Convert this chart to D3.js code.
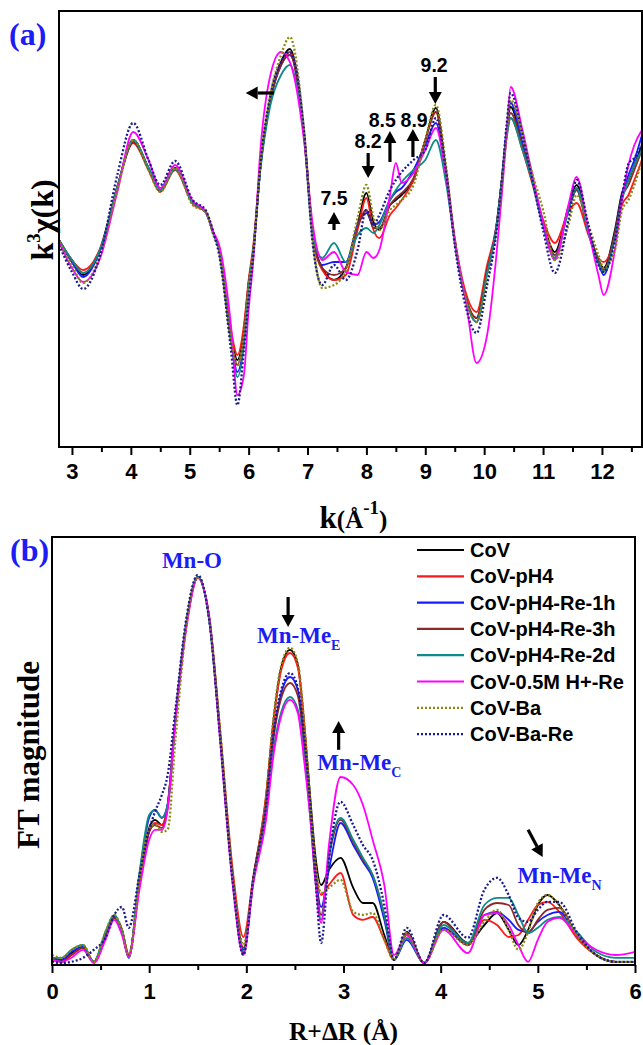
<!DOCTYPE html>
<html>
<head>
<meta charset="utf-8">
<script src="https://cdn.jsdelivr.net/npm/d3@7"></script>
<style>
  body { margin: 0; background: #fff; }
  svg { display: block; }
</style>
</head>
<body>
<svg id="chart" width="643" height="1045"></svg>
<script>
// ---- panel (a): k^3 chi(k) ----
const kVals = [2.78, 3.0, 3.19, 3.48, 3.77, 4.04, 4.3, 4.5, 4.75, 5.05, 5.27, 5.4, 5.5, 5.7, 5.81, 5.92, 6.0, 6.08, 6.2, 6.37,
  6.55, 6.7, 6.94, 7.09, 7.25, 7.45, 7.65, 7.85, 8.0, 8.12, 8.22, 8.4, 8.5, 8.6, 8.8, 9.0, 9.18, 9.35, 9.5, 9.7,
  9.87, 10.05, 10.2, 10.3, 10.38, 10.45, 10.65, 10.8, 11.0, 11.2, 11.43, 11.57, 11.77, 11.94, 12.03, 12.22, 12.34, 12.45, 12.55, 12.68];

const chiCoV = [-1.0, -3.2, -4.5, -2.0, 4.3, 9.0, 6.2, 4.0, 6.2, 2.7, 1.8, -0.3, -2.0, -10.5, -13.0, -10.0, -5.3, -2.0, 6.3, 13.0,
  16.8, 18.1, 9.7, -0.3, -3.8, -5.0, -3.8, 0.5, 3.7, 0.8, 0.0, 2.5, 3.0, 3.5, 5.0, 9.0, 12.2, 6.0, -1.0, -7.0,
  -8.8, -4.0, 0.0, 5.0, 9.7, 12.3, 8.5, 5.5, 0.8, -2.2, 2.3, 4.5, 0.0, -3.0, -3.8, 0.0, 3.7, 5.0, 6.5, 8.5];
const chiPH4 = [-1.0, -3.0, -4.0, -1.8, 4.3, 8.7, 6.0, 3.8, 6.0, 2.6, 1.8, -0.2, -1.8, -10.0, -12.5, -9.5, -5.0, -1.5, 6.5, 13.0,
  16.5, 17.8, 9.5, -0.5, -4.0, -5.0, -4.5, 0.0, 3.2, 0.0, -0.8, 1.5, 2.2, 3.0, 5.0, 9.0, 11.8, 6.0, -0.8, -6.5,
  -8.2, -3.5, 0.2, 5.0, 9.2, 11.2, 8.0, 5.0, 1.0, -1.3, 1.8, 2.7, -0.5, -2.8, -3.2, -0.8, 2.5, 3.5, 5.0, 7.0];
const chiRe1h = [-1.0, -3.2, -4.7, -2.0, 4.3, 8.8, 6.2, 4.0, 6.2, 2.8, 1.8, -0.3, -2.0, -11.0, -14.2, -11.0, -5.5, -2.0, 6.3, 13.0,
  16.5, 17.5, 9.7, -0.3, -3.5, -3.2, -3.2, 0.5, 1.7, 0.5, 0.8, 3.0, 3.8, 4.2, 6.0, 8.5, 10.7, 5.5, -1.2, -7.2,
  -9.2, -4.3, 0.0, 5.0, 10.0, 12.7, 8.7, 5.5, 0.5, -2.8, 2.0, 4.0, -0.3, -3.3, -4.5, -0.5, 3.5, 5.5, 7.0, 9.5];
const chiRe3h = [-1.0, -3.0, -4.3, -1.9, 4.3, 8.8, 6.1, 3.9, 6.1, 2.7, 1.8, -0.3, -2.0, -10.8, -13.5, -10.3, -5.4, -2.0, 6.3, 13.0,
  16.5, 17.5, 9.6, -0.4, -3.8, -4.5, -3.8, 0.3, 2.0, 0.2, 0.2, 2.5, 3.2, 3.7, 5.2, 9.0, 11.8, 5.8, -1.0, -7.0,
  -8.8, -4.0, 0.0, 5.0, 9.5, 11.7, 8.3, 5.3, 0.7, -2.5, 2.0, 4.0, -0.2, -3.0, -4.0, -0.3, 3.3, 4.5, 6.0, 8.0];
const chiRe2d = [-1.0, -3.0, -4.3, -1.9, 4.3, 9.0, 6.2, 4.0, 6.1, 2.7, 1.8, -0.3, -2.0, -11.0, -14.7, -11.5, -5.8, -2.0, 6.0, 12.5,
  15.5, 16.5, 9.3, -0.5, -2.8, -1.3, -3.2, -0.5, 0.2, -0.3, 0.5, 3.0, 4.0, 4.8, 6.0, 7.0, 9.0, 4.8, -1.2, -7.2,
  -9.2, -4.3, 0.0, 5.0, 9.2, 11.2, 8.0, 5.2, 0.5, -2.8, 2.0, 4.2, -0.3, -3.3, -4.2, -0.8, 3.0, 5.0, 6.5, 8.0];
const chiH = [-1.2, -3.8, -5.2, -2.8, 3.8, 9.8, 7.0, 4.2, 6.5, 2.9, 1.9, -0.2, -1.5, -9.5, -16.5, -14.5, -8.0, -3.0, 8.0, 15.5,
  17.8, 16.8, 9.0, 0.5, -3.0, -2.2, -4.2, -4.5, -2.2, -2.8, -2.0, 3.5, 6.7, 4.7, 5.7, 8.0, 10.2, 5.5, -1.0, -7.5,
  -13.3, -10.5, -3.0, 3.5, 9.5, 14.3, 10.0, 6.0, 0.8, -3.0, 2.5, 5.3, 0.0, -4.5, -6.5, -2.0, 3.0, 6.5, 8.5, 10.0];
const chiBa = [-1.2, -3.5, -5.3, -2.5, 4.0, 9.0, 6.0, 3.8, 6.2, 2.5, 1.8, -0.5, -2.2, -11.0, -13.5, -10.5, -5.5, -2.0, 6.5, 13.5,
  17.5, 19.3, 10.0, -1.0, -5.8, -5.5, -4.0, 1.2, 4.5, 1.3, 0.0, 2.0, 2.5, 3.0, 4.5, 9.0, 12.5, 6.5, -1.0, -7.2,
  -9.2, -5.0, -0.5, 4.5, 9.5, 13.0, 9.5, 6.0, 2.0, -3.0, 0.5, 3.5, 0.5, -2.5, -3.8, -2.0, 2.0, 3.0, 4.5, 7.0];
const chiBaRe = [-1.5, -4.2, -5.9, -2.5, 5.5, 10.7, 7.0, 4.5, 6.9, 3.0, 2.0, -0.2, -2.5, -12.0, -17.5, -12.0, -7.0, -2.5, 6.5, 13.5,
  16.8, 17.8, 10.0, -1.5, -5.5, -3.5, -5.0, -2.0, 2.0, 0.5, 1.5, 4.0, 5.0, 5.8, 7.0, 8.0, 11.2, 6.0, -1.5, -8.0,
  -10.3, -5.5, -0.5, 5.0, 10.5, 13.7, 9.5, 5.5, 0.0, -4.3, 1.0, 5.0, 0.5, -3.5, -4.2, -1.0, 3.3, 6.6, 7.2, 8.5];

// ---- panel (b): FT magnitude ----
const rVals = [0, 0.1, 0.2, 0.32, 0.43, 0.55, 0.64, 0.72, 0.79, 0.9, 1.0, 1.06, 1.13, 1.19, 1.27, 1.38, 1.5, 1.62, 1.73, 1.86,
  1.97, 2.07, 2.2, 2.28, 2.36, 2.45, 2.53, 2.6, 2.66, 2.71, 2.77, 2.85, 2.97, 3.1, 3.2, 3.3, 3.42, 3.52, 3.65, 3.83,
  4.03, 4.28, 4.45, 4.58, 4.7, 4.8, 4.9, 5.0, 5.1, 5.22, 5.4, 5.6, 5.8, 6.0];

const ftCoV = [1.8, 1.3, 3.0, 4.5, 0.8, 7.5, 12.0, 8.8, 2.0, 21.3, 34.3, 36.3, 35.0, 40.0, 61.8, 85.0, 97.0, 86.3, 57.5, 21.3,
  3.0, 21.3, 41.3, 61.3, 74.5, 78.8, 75.0, 58.8, 41.3, 27.5, 20.0, 23.8, 26.8, 19.3, 15.5, 15.5, 7.5, 1.3, 8.3, 0.5,
  10.8, 5.5, 10.0, 13.0, 8.8, 5.0, 8.8, 15.0, 17.5, 15.0, 7.5, 2.5, 0.8, 0.8];
const ftPH4 = [1.8, 0.8, 2.5, 4.3, 0.8, 6.8, 11.8, 8.8, 2.5, 20.0, 33.3, 35.5, 35.0, 40.0, 61.3, 84.5, 96.8, 86.8, 58.8, 23.8,
  7.0, 21.8, 41.8, 60.8, 73.8, 78.0, 74.3, 59.3, 40.0, 25.0, 17.5, 20.0, 23.0, 12.5, 11.3, 12.0, 6.3, 1.3, 7.5, 0.5,
  9.3, 5.0, 11.3, 10.0, 7.0, 7.5, 11.3, 15.0, 15.8, 13.3, 6.8, 2.5, 0.8, 0.8];
const ftRe1h = [1.3, 1.3, 3.3, 4.5, 0.8, 7.5, 12.0, 8.3, 1.8, 22.5, 36.8, 38.8, 36.8, 40.0, 61.3, 85.0, 97.0, 86.3, 57.5, 21.3,
  3.8, 20.8, 39.3, 57.5, 68.0, 72.0, 68.8, 55.0, 38.8, 23.8, 14.5, 23.8, 35.5, 30.0, 25.8, 21.8, 11.3, 1.3, 6.3, 0.5,
  9.3, 5.0, 12.5, 13.3, 11.3, 8.8, 8.3, 10.8, 12.5, 13.3, 7.5, 2.5, 0.8, 0.8];
const ftRe3h = [1.3, 0.8, 2.5, 4.3, 0.8, 7.0, 11.8, 8.8, 2.5, 20.0, 33.3, 35.0, 34.3, 39.3, 61.3, 84.5, 96.8, 86.3, 58.0, 21.8,
  4.3, 21.3, 38.8, 56.8, 66.8, 70.5, 67.3, 53.8, 37.5, 22.5, 12.5, 26.8, 36.3, 30.8, 26.3, 22.5, 12.5, 1.3, 8.0, 0.5,
  10.8, 5.0, 13.8, 15.5, 15.0, 10.0, 8.0, 11.3, 13.8, 14.3, 7.5, 2.5, 0.8, 0.8];
const ftRe2d = [1.8, 1.8, 3.8, 5.0, 0.8, 8.3, 12.5, 8.3, 1.8, 23.0, 37.5, 38.8, 36.8, 40.0, 61.3, 85.0, 97.0, 85.8, 57.0, 20.8,
  3.3, 20.8, 36.8, 53.8, 63.3, 67.0, 63.8, 51.3, 36.3, 21.3, 11.3, 27.5, 36.8, 31.3, 26.8, 22.5, 12.5, 1.3, 6.8, 0.5,
  10.0, 5.5, 15.0, 16.8, 16.8, 12.5, 8.0, 9.3, 11.3, 12.0, 8.3, 3.3, 1.8, 1.8];
const ftH = [1.3, 0.8, 1.8, 3.8, 0.5, 6.3, 11.3, 7.5, 2.0, 18.8, 31.3, 33.8, 33.8, 38.8, 60.8, 83.8, 96.8, 86.8, 56.3, 20.0,
  2.5, 20.0, 35.8, 52.5, 62.3, 66.3, 63.0, 50.0, 36.3, 21.3, 10.5, 30.0, 47.0, 45.0, 40.0, 31.3, 20.0, 2.5, 7.5, 0.5,
  8.8, 3.0, 12.5, 13.0, 10.0, 5.0, 0.8, 6.3, 10.8, 11.8, 7.5, 3.8, 2.5, 3.3];
const ftBa = [2.5, 1.8, 3.8, 5.0, 0.8, 8.3, 12.5, 8.8, 2.5, 21.3, 34.3, 35.0, 33.3, 33.8, 56.3, 84.3, 97.0, 86.3, 58.8, 22.5,
  5.0, 21.3, 41.3, 61.8, 75.0, 79.3, 75.5, 59.3, 40.0, 25.8, 18.0, 19.3, 21.3, 13.3, 12.5, 13.0, 6.3, 1.3, 8.0, 0.5,
  8.8, 5.0, 10.8, 13.8, 8.8, 3.8, 8.3, 15.5, 17.5, 15.0, 7.5, 2.5, 0.8, 0.8];
const ftBaRe = [0.8, 0.5, 0.8, 1.8, 3.8, 6.8, 12.5, 14.5, 9.3, 22.5, 33.8, 38.3, 42.5, 47.5, 63.8, 86.3, 97.5, 85.8, 56.8, 20.8,
  2.5, 21.3, 39.3, 58.0, 68.8, 73.0, 69.3, 55.8, 39.3, 22.5, 5.5, 26.3, 40.8, 35.0, 30.0, 26.3, 15.0, 1.3, 9.3, 0.5,
  12.5, 6.8, 18.8, 21.8, 17.5, 11.8, 10.8, 13.8, 15.8, 15.8, 8.3, 2.5, 0.8, 0.8];

const seriesNames = ['CoV', 'CoV-pH4', 'CoV-pH4-Re-1h', 'CoV-pH4-Re-3h', 'CoV-pH4-Re-2d', 'CoV-0.5M H+-Re', 'CoV-Ba', 'CoV-Ba-Re'];
const seriesColors = ['#000000', '#ff1a1a', '#1a1aff', '#8b2a2a', '#0f8a8a', '#ff00ff', '#8a8a10', '#1a1a8c'];
const seriesDash = [null, null, null, null, null, null, '2,2', '2,2'];
const chiSeries = [chiCoV, chiPH4, chiRe1h, chiRe3h, chiRe2d, chiH, chiBa, chiBaRe];
const ftSeries = [ftCoV, ftPH4, ftRe1h, ftRe3h, ftRe2d, ftH, ftBa, ftBaRe];

const SANS = '"Liberation Sans", Arial, sans-serif';
const SERIF = '"Liberation Serif", "Times New Roman", serif';
const BLUE = '#1c1cf5';

const svg = d3.select('#chart');

function arrow(g, x1, y1, x2, y2) {
  let ang = Math.atan2(y2 - y1, x2 - x1);
  let hl = 12, hw = 6.5;
  let bx = x2 - hl * Math.cos(ang), by = y2 - hl * Math.sin(ang);
  g.append('line')
    .attr('x1', x1).attr('y1', y1).attr('x2', bx).attr('y2', by)
    .attr('stroke', 'black').attr('stroke-width', 3.2);
  let px = -Math.sin(ang) * hw, py = Math.cos(ang) * hw;
  g.append('path')
    .attr('d', `M${x2},${y2}L${bx + px},${by + py}L${bx - px},${by - py}Z`)
    .attr('fill', 'black');
}

function drawCurves(g, xs, ys, xv, list, clipId) {
  let line = d3.line()
    .x((d, i) => xs(xv[i]))
    .y(d => ys(d))
    .curve(d3.curveMonotoneX);
  g.append('g').attr('clip-path', `url(#${clipId})`)
    .selectAll('path').data(list)
    .enter().append('path')
    .attr('d', d => line(d))
    .attr('fill', 'none')
    .attr('stroke', (d, i) => seriesColors[i])
    .attr('stroke-width', (d, i) => seriesDash[i] ? 2.3 : 1.8)
    .attr('stroke-dasharray', (d, i) => seriesDash[i]);
}

function bottomAxis(g, xs, y0, ticks, minor, pad) {
  let ax = d3.axisBottom(xs).tickValues(ticks).tickSize(8).tickPadding(pad).tickFormat(d3.format('d'));
  let a = g.append('g').attr('transform', `translate(0,${y0})`).call(ax);
  a.select('.domain').remove();
  a.selectAll('line').attr('stroke-width', 2);
  a.selectAll('text').style('font-family', SANS).style('font-weight', 'bold').style('font-size', '22px').attr('fill', 'black');
  let mi = d3.axisBottom(xs).tickValues(minor).tickSize(5).tickFormat('');
  let b = g.append('g').attr('transform', `translate(0,${y0})`).call(mi);
  b.select('.domain').remove();
  b.selectAll('line').attr('stroke-width', 2);
}

// ================= panel (a) =================
const A = { left: 59, right: 642, top: 11, bottom: 447 };
const xA = d3.scaleLinear().domain([2.78, 12.68]).range([A.left, A.right]);
const yA = d3.scaleLinear().domain([-21.7, 21.9]).range([A.bottom, A.top]);

let defs = svg.append('defs');
defs.append('clipPath').attr('id', 'clipA').append('rect')
  .attr('x', A.left).attr('y', A.top).attr('width', A.right - A.left).attr('height', A.bottom - A.top);

let gA = svg.append('g');
drawCurves(gA, xA, yA, kVals, chiSeries, 'clipA');
gA.append('rect')
  .attr('x', A.left).attr('y', A.top).attr('width', A.right - A.left).attr('height', A.bottom - A.top)
  .attr('fill', 'none').attr('stroke', 'black').attr('stroke-width', 2);
bottomAxis(gA, xA, A.bottom, d3.range(3, 13), d3.range(3.5, 12.6, 1), 8);

// peak labels with arrows
const peakLabels = [
  { t: '7.5', k: 7.45, v: 2.5, a: [7.45, 0.0, 7.45, 1.8] },
  { t: '8.2', k: 8.03, v: 8.2, a: [8.03, 7.7, 8.03, 5.2] },
  { t: '8.5', k: 8.27, v: 10.3, a: [8.4, 6.8, 8.4, 9.9] },
  { t: '8.9', k: 8.81, v: 10.3, a: [8.79, 7.3, 8.79, 10.1] },
  { t: '9.2', k: 9.15, v: 15.8, a: [9.17, 15.3, 9.17, 12.6] }
];
peakLabels.forEach(p => {
  gA.append('text').attr('x', xA(p.k)).attr('y', yA(p.v)).attr('text-anchor', 'middle')
    .style('font-family', SANS).style('font-weight', 'bold').style('font-size', '19.5px').text(p.t);
  arrow(gA, xA(p.a[0]), yA(p.a[1]), xA(p.a[2]), yA(p.a[3]));
});
arrow(gA, xA(6.43), yA(13.7), xA(5.95), yA(13.7));

gA.append('text').attr('x', 9).attr('y', 45)
  .style('font-family', SERIF).style('font-weight', 'bold').style('font-size', '32px')
  .attr('fill', BLUE).text('(a)');

// y label k^3 chi(k)
let ylA = gA.append('text').attr('transform', 'translate(53,220) rotate(-90)').attr('text-anchor', 'middle')
  .style('font-family', SERIF).style('font-weight', 'bold').style('font-size', '32px');
ylA.append('tspan').text('k');
ylA.append('tspan').attr('dy', -13).style('font-size', '19px').text('3');
ylA.append('tspan').attr('dy', 13).text('χ(k)');

// x label k(A^-1)
let xlA = gA.append('text').attr('x', (A.left + A.right) / 2 + 3).attr('y', 528).attr('text-anchor', 'middle')
  .style('font-family', SERIF).style('font-weight', 'bold').style('font-size', '31px');
xlA.append('tspan').text('k');
xlA.append('tspan').style('font-size', '25px').text('(Å');
xlA.append('tspan').attr('dy', -14).style('font-size', '19px').text('-1');
xlA.append('tspan').attr('dy', 14).style('font-size', '25px').text(')');

// ================= panel (b) =================
const B = { left: 52, right: 635, top: 537, bottom: 965 };
const xB = d3.scaleLinear().domain([0, 6]).range([B.left, B.right]);
const yB = d3.scaleLinear().domain([0, 107]).range([B.bottom, B.top]);

defs.append('clipPath').attr('id', 'clipB').append('rect')
  .attr('x', B.left).attr('y', B.top).attr('width', B.right - B.left).attr('height', B.bottom - B.top);

let gB = svg.append('g');
drawCurves(gB, xB, yB, rVals, ftSeries, 'clipB');
gB.append('rect')
  .attr('x', B.left).attr('y', B.top).attr('width', B.right - B.left).attr('height', B.bottom - B.top)
  .attr('fill', 'none').attr('stroke', 'black').attr('stroke-width', 2);
bottomAxis(gB, xB, B.bottom, d3.range(0, 7), d3.range(0.5, 6, 1), 10);

// legend
let leg = gB.append('g');
let rows = leg.selectAll('g').data(seriesNames).enter().append('g')
  .attr('transform', (d, i) => `translate(417,${550 + i * 26.3})`);
rows.append('line').attr('x1', 0).attr('x2', 47).attr('y1', 0).attr('y2', 0)
  .attr('stroke', (d, i) => seriesColors[i])
  .attr('stroke-width', 2.2)
  .attr('stroke-dasharray', (d, i) => seriesDash[i]);
rows.append('text').attr('x', 53).attr('y', 7)
  .style('font-family', SANS).style('font-weight', 'bold').style('font-size', '20px')
  .text(d => d);

// shell labels
function shellLabel(r, v, main, sub, anchor) {
  let t = gB.append('text').attr('x', xB(r)).attr('y', yB(v)).attr('text-anchor', anchor)
    .style('font-family', SERIF).style('font-weight', 'bold').style('font-size', '23px').attr('fill', BLUE);
  t.append('tspan').text(main);
  if (sub) t.append('tspan').attr('dy', 7).style('font-size', '14px').text(sub);
}
shellLabel(1.44, 99.3, 'Mn-O', null, 'middle');
shellLabel(2.11, 80.5, 'Mn-Me', 'E', 'start');
shellLabel(2.73, 48.8, 'Mn-Me', 'C', 'start');
shellLabel(4.79, 20.5, 'Mn-Me', 'N', 'start');

arrow(gB, xB(2.43), yB(92), xB(2.43), yB(84.5));
arrow(gB, xB(2.95), yB(53.8), xB(2.95), yB(61));
arrow(gB, xB(4.9), yB(33.8), xB(5.05), yB(27));

gB.append('text').attr('x', 10).attr('y', 561)
  .style('font-family', SERIF).style('font-weight', 'bold').style('font-size', '32px')
  .attr('fill', BLUE).text('(b)');

gB.append('text').attr('transform', `translate(39,${(B.top + B.bottom) / 2 + 4}) rotate(-90)`).attr('text-anchor', 'middle')
  .style('font-family', SERIF).style('font-weight', 'bold').style('font-size', '31px')
  .text('FT magnitude');

gB.append('text').attr('x', (B.left + B.right) / 2).attr('y', 1040).attr('text-anchor', 'middle')
  .style('font-family', SERIF).style('font-weight', 'bold').style('font-size', '25.5px')
  .text('R+ΔR (Å)');
</script>
</body>
</html>
